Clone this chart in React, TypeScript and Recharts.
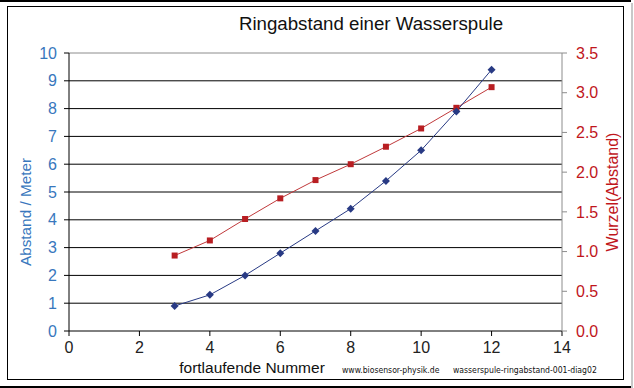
import React from 'react';
import {
  LineChart,
  Line,
  CartesianGrid,
  XAxis,
  YAxis,
  ReferenceLine,
} from 'recharts';

// fortlaufende Nummer
const nummer = [3, 4, 5, 6, 7, 8, 9, 10, 11, 12];
// Abstand in Meter (linke Achse)
const abstand = [0.9, 1.3, 2.0, 2.8, 3.6, 4.4, 5.4, 6.5, 7.9, 9.4];
// Wurzel(Abstand) (rechte Achse)
const wurzel = [0.95, 1.14, 1.41, 1.67, 1.9, 2.1, 2.32, 2.55, 2.81, 3.07];

const xTicks = [0, 2, 4, 6, 8, 10, 12, 14];
const leftTicks = [0, 1, 2, 3, 4, 5, 6, 7, 8, 9, 10];
const rightTicks = [0, 0.5, 1, 1.5, 2, 2.5, 3, 3.5];
const gridValues = [1, 2, 3, 4, 5, 6, 7, 8, 9];

const chartData = nummer.map((n, i) => ({ n, abstand: abstand[i], wurzel: wurzel[i] }));

const BLUE_TEXT = '#3877bd';
const RED_TEXT = '#c0161c';
const BLUE_LINE = '#283a84';
const RED_LINE = '#c0393b';
const FONT = '"Liberation Sans", Arial, sans-serif';

const Diamond = (props: any) => {
  const { cx, cy, index } = props;
  if (cx == null || cy == null) return <g key={`d${index}`} />;
  const r = 4;
  return (
    <path
      key={`d${index}`}
      d={`M${cx},${cy - r}L${cx + r},${cy}L${cx},${cy + r}L${cx - r},${cy}Z`}
      fill={BLUE_LINE}
    />
  );
};

const Square = (props: any) => {
  const { cx, cy, index } = props;
  if (cx == null || cy == null) return <g key={`s${index}`} />;
  const h = 3;
  return <rect key={`s${index}`} x={cx - h} y={cy - h} width={h * 2} height={h * 2} fill="#b81e22" />;
};

const abs = (s: React.CSSProperties): React.CSSProperties => ({ position: 'absolute', ...s });

const App: React.FC = () => {
  return (
    <div style={{ position: 'absolute', left: 0, top: 0, width: 634, height: 388, background: '#fff' }}>
      {/* outer frame */}
      <div style={abs({ left: 0, top: 0, width: 631, height: 2, background: '#000' })} />
      <div style={abs({ left: 0, top: 386, width: 631, height: 2, background: '#000' })} />
      <div style={abs({ left: 631, top: 3, width: 2, height: 385, background: '#c8c8c8' })} />
      {/* inner frame */}
      <div style={abs({ left: 7, top: 6, width: 615, height: 372, border: '1px solid #000' })} />

      <div style={abs({ left: 0, top: 0 })}>
        <LineChart
          width={634}
          height={388}
          data={chartData}
          margin={{ top: 53, right: 0, left: 0, bottom: 32 }}
        >
          <CartesianGrid
            horizontal
            vertical={false}
            stroke="#000"
            strokeWidth={1}
            horizontalValues={gridValues}
            yAxisId="left"
          />
          <XAxis
            dataKey="n"
            type="number"
            domain={[0, 14]}
            ticks={xTicks}
            interval={0}
            height={25}
            axisLine={{ stroke: '#000' }}
            tickLine={{ stroke: '#000' }}
            tickSize={5}
            tickMargin={6}
            tick={{ fill: '#222', fontSize: 16, fontFamily: FONT }}
          />
          <YAxis
            yAxisId="left"
            orientation="left"
            domain={[0, 10]}
            ticks={leftTicks}
            interval={0}
            width={69}
            axisLine={{ stroke: '#000' }}
            tickLine={{ stroke: '#000' }}
            tickSize={5}
            tickMargin={7}
            tick={{ fill: BLUE_TEXT, fontSize: 16, fontFamily: FONT }}
          />
          <YAxis
            yAxisId="right"
            orientation="right"
            domain={[0, 3.5]}
            ticks={rightTicks}
            interval={0}
            width={72}
            axisLine={{ stroke: '#8c8c8c' }}
            tickLine={{ stroke: '#8c8c8c' }}
            tickSize={5}
            tickMargin={9}
            tickFormatter={(v: number) => v.toFixed(1)}
            tick={{ fill: RED_TEXT, fontSize: 16, fontFamily: FONT }}
          />
          <ReferenceLine yAxisId="left" y={10} stroke="#8c8c8c" strokeWidth={1} />
          <Line
            yAxisId="right"
            type="linear"
            dataKey="wurzel"
            stroke={RED_LINE}
            strokeWidth={1}
            dot={Square}
            activeDot={false}
            isAnimationActive={false}
          />
          <Line
            yAxisId="left"
            type="linear"
            dataKey="abstand"
            stroke={BLUE_LINE}
            strokeWidth={1}
            dot={Diamond}
            activeDot={false}
            isAnimationActive={false}
          />
        </LineChart>
      </div>

      {/* title */}
      <div
        style={abs({
          left: 171,
          width: 400,
          top: 13,
          textAlign: 'center',
          fontFamily: FONT,
          fontSize: 18.7,
          lineHeight: '22px',
          color: '#111',
          whiteSpace: 'nowrap',
        })}
      >
        Ringabstand einer Wasserspule
      </div>

      {/* left axis title */}
      <div
        style={abs({
          left: 26,
          top: 212,
          transform: 'translate(-50%, -50%) rotate(-90deg)',
          fontFamily: FONT,
          fontSize: 15.3,
          lineHeight: '18px',
          color: BLUE_TEXT,
          whiteSpace: 'nowrap',
        })}
      >
        Abstand / Meter
      </div>

      {/* right axis title */}
      <div
        style={abs({
          left: 613,
          top: 192,
          transform: 'translate(-50%, -50%) rotate(-90deg)',
          fontFamily: FONT,
          fontSize: 16,
          lineHeight: '18px',
          color: RED_TEXT,
          whiteSpace: 'nowrap',
        })}
      >
        Wurzel(Abstand)
      </div>

      {/* x axis title */}
      <div
        style={abs({
          left: 152,
          width: 200,
          top: 359,
          textAlign: 'center',
          fontFamily: FONT,
          fontSize: 15.5,
          lineHeight: '18px',
          color: '#111',
          whiteSpace: 'nowrap',
        })}
      >
        fortlaufende Nummer
      </div>

      {/* footer notes */}
      <div
        style={abs({
          left: 342,
          top: 365,
          fontFamily: '"DejaVu Sans Condensed", "DejaVu Sans", sans-serif',
          fontSize: 8.6,
          lineHeight: '11px',
          color: '#111',
          whiteSpace: 'nowrap',
        })}
      >
        www.biosensor-physik.de
      </div>
      <div
        style={abs({
          left: 453,
          top: 365,
          fontFamily: '"DejaVu Sans Condensed", "DejaVu Sans", sans-serif',
          fontSize: 8.6,
          lineHeight: '11px',
          color: '#111',
          whiteSpace: 'nowrap',
        })}
      >
        wasserspule-ringabstand-001-diag02
      </div>
    </div>
  );
};

export default App;
